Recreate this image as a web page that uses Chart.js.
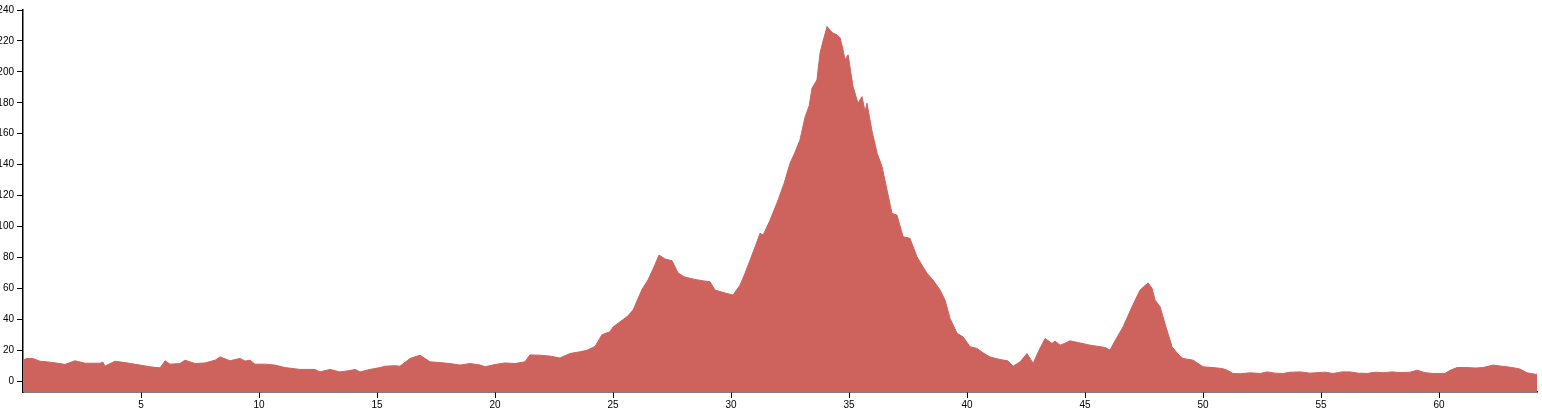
<!DOCTYPE html>
<html>
<head>
<meta charset="utf-8">
<script src="https://cdn.jsdelivr.net/npm/chart.js@4/dist/chart.umd.min.js"></script>
<style>
html,body{margin:0;padding:0;background:#fff;}
#wrap{width:1542px;height:411px;position:relative;}
</style>
</head>
<body>
<div id="wrap"><canvas id="c" width="1542" height="411"></canvas></div>
<script>
// distance (x) and value (y)
const distances = [
0,0.17,0.42,0.72,1.14,1.57,1.78,2.20,2.63,3.26,3.39,3.47,3.90,4.32,4.96,5.38,5.81,6.02,6.23,6.65,
6.86,7.29,7.71,8.14,8.35,8.77,9.19,9.41,9.62,9.83,10.25,10.68,11.10,11.74,12.37,12.58,13.01,13.43,13.86,14.07,
14.28,14.70,15.13,15.34,15.76,15.97,16.40,16.82,17.25,17.67,18.09,18.52,18.94,19.36,19.58,20.00,20.42,20.85,21.27,21.48,
21.91,22.33,22.75,23.18,23.60,23.90,24.24,24.53,24.87,25.00,25.30,25.59,25.85,26.23,26.48,26.74,26.95,27.20,27.50,27.75,
28.01,28.26,28.47,28.77,29.11,29.32,29.75,30.08,30.38,30.59,30.80,31.02,31.23,31.36,31.65,31.99,32.25,32.50,32.71,32.92,
33.14,33.31,33.43,33.64,33.77,33.90,34.07,34.19,34.32,34.49,34.62,34.75,34.83,34.96,35.17,35.38,35.55,35.68,35.76,35.97,
36.19,36.40,36.61,36.82,37.03,37.29,37.58,37.88,38.09,38.31,38.56,38.86,39.07,39.28,39.58,39.83,40.13,40.42,40.68,40.97,
41.40,41.74,41.95,42.25,42.54,42.80,43.05,43.31,43.60,43.73,43.94,44.15,44.36,44.79,45.21,45.64,45.85,46.06,46.27,46.61,
46.99,47.33,47.67,47.84,47.97,48.18,48.43,48.69,48.94,49.15,49.58,50.00,50.42,50.81,51.02,51.27,51.57,51.99,52.42,52.71,
53.05,53.39,53.69,54.11,54.53,54.83,55.17,55.51,55.89,56.23,56.57,56.95,57.29,57.63,58.01,58.35,58.77,59.07,59.41,59.75,
60.25,60.47,60.76,61.19,61.53,61.86,62.29,62.58,62.88,63.22,63.43,63.73,64.07,64.15
];
const values = [
13.6,14.7,14.7,12.9,12.3,11.4,10.8,13.2,11.6,11.6,12.3,9.7,12.9,12.0,10.4,9.3,8.6,13.2,11.0,11.4,
13.6,11.4,11.8,13.6,15.7,13.2,14.7,13.0,13.6,11.0,11.0,10.4,8.8,7.6,7.6,6.0,7.6,6.0,6.9,7.6,
6.0,7.6,8.8,9.7,10.0,9.7,14.7,16.8,12.5,12.0,11.4,10.4,11.4,10.5,9.3,10.8,11.8,11.4,12.5,17.0,
16.8,16.2,15.0,17.9,19.0,20.0,22.5,30.0,32.0,35.0,38.5,41.6,46.0,59.4,65.4,74.0,81.6,79.0,77.9,70.1,
67.5,66.5,65.8,65.0,64.3,58.9,57.0,55.7,62.1,69.7,78.0,86.9,95.6,94.5,104,117,128,140.9,148,156,
171,178,189.4,194.8,212,220,229.3,227,225,224,222,214,207.8,211,190.5,179.7,184,174.3,179.7,162,
147.4,138.7,123.6,108.5,107.4,93.4,92.4,80.5,75,69.7,65.4,58.9,52.4,40.6,30.9,28.7,22.2,21.2,18.3,15.7,
14.0,13.1,9.7,12.5,17.9,11.5,20,27.6,24.4,25.9,23.3,24.5,26.1,24.7,23.3,22.3,21.8,20.0,26.1,35.1,
48.1,58.9,63.6,60,52.4,48.1,35,22.2,17.5,14.7,13.6,9.3,8.8,8.2,7.1,5.0,4.8,5.4,5.0,6.0,
5.2,5.0,5.8,6.0,5.2,5.5,5.8,5.0,6.0,6.0,5.2,5.0,5.8,5.5,6.0,5.6,5.8,7.1,5.5,5.0,
5.0,7.0,8.8,8.8,8.5,8.8,10.4,9.8,9.3,8.5,7.8,5.4,4.5,4.5
];
const yTickValues = [0,20,40,60,80,100,120,140,160,180,200,220,240];
const xTickValues = [5,10,15,20,25,30,35,40,45,50,55,60];

const points = distances.map((d, i) => ({x: d, y: values[i]}));
const fillColor = 'rgb(205,99,92)';
const tickFont = {family: 'Arial, "Liberation Sans", sans-serif', size: 10};

new Chart(document.getElementById('c'), {
  type: 'line',
  data: {
    datasets: [{
      data: points,
      borderColor: fillColor,
      backgroundColor: fillColor,
      borderWidth: 1,
      pointRadius: 0,
      tension: 0,
      fill: 'start'
    }]
  },
  options: {
    responsive: false,
    animation: false,
    layout: {padding: {top: 10, right: 5, left: 0, bottom: 0}},
    plugins: {legend: {display: false}, tooltip: {enabled: false}},
    scales: {
      x: {
        type: 'linear',
        min: 0,
        max: 64.15,
        afterBuildTicks: (s) => { s.ticks = xTickValues.map(v => ({value: v})); },
        afterFit: (s) => { s.height = 19; },
        ticks: {color: '#000', font: tickFont, padding: 1, maxRotation: 0, autoSkip: false,
                callback: (v) => String(v)},
        grid: {display: true, drawOnChartArea: false, drawTicks: true, tickLength: 6, color: '#000', lineWidth: 1},
        border: {display: true, color: '#000', width: 1.5}
      },
      y: {
        type: 'linear',
        min: -7,
        max: 240,
        afterBuildTicks: (s) => { s.ticks = yTickValues.map(v => ({value: v})); },
        afterFit: (s) => { s.width = 23; },
        ticks: {color: '#000', font: tickFont, padding: 3, autoSkip: false,
                callback: (v) => String(v)},
        grid: {display: true, drawOnChartArea: false, drawTicks: true, tickLength: 6, color: '#000', lineWidth: 1},
        border: {display: true, color: '#000', width: 1.5}
      }
    }
  }
});
</script>
</body>
</html>
